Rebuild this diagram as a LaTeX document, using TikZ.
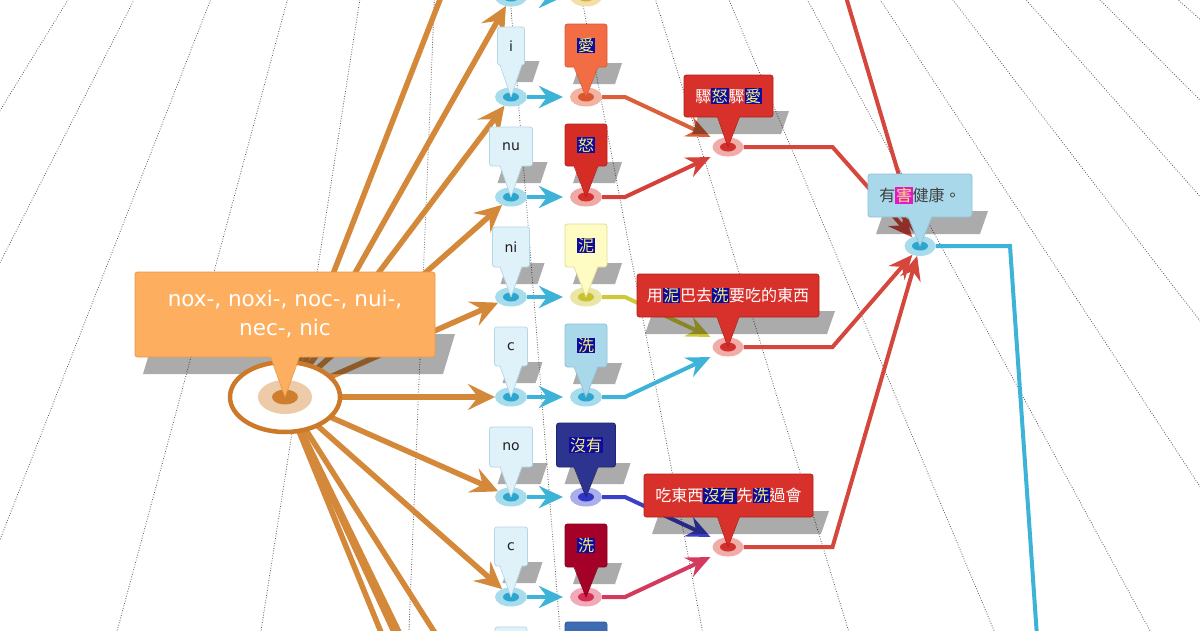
\documentclass[tikz,border=0pt]{standalone}
\usepackage{fontspec}
\setmainfont{DejaVu Sans}
\newfontfamily\cjk{Noto Sans CJK TC}
\usetikzlibrary{arrows.meta,calc,shapes.geometric}
\definecolor{oc}{HTML}{D4883A}
\definecolor{ringc}{HTML}{CC7A2A}
\definecolor{ringl}{HTML}{EECBA8}
\definecolor{ringd}{HTML}{CF7E2E}
\definecolor{mainf}{HTML}{FDAE5F}
\definecolor{maind}{HTML}{E99A48}
\definecolor{labf}{HTML}{E0F2F9}
\definecolor{labd}{HTML}{B3D7E6}
\definecolor{bo}{HTML}{A6DCEC}
\definecolor{bi}{HTML}{2CA5CF}
\definecolor{barc}{HTML}{3DB4D7}
\definecolor{hlbg}{HTML}{0C0CA0}
\definecolor{hlfg}{HTML}{F6EE78}
\definecolor{hlmg}{HTML}{E418C8}
\definecolor{K1f}{HTML}{F26D44}\definecolor{K1d}{HTML}{D85A35}
\definecolor{K2f}{HTML}{D52D25}\definecolor{K2d}{HTML}{B82019}
\definecolor{K3f}{HTML}{FFFCC3}\definecolor{K3d}{HTML}{E2DC9A}
\definecolor{K4f}{HTML}{A9D8EA}\definecolor{K4d}{HTML}{8EC2D6}
\definecolor{K5f}{HTML}{2C348F}\definecolor{K5d}{HTML}{1F2570}
\definecolor{K6f}{HTML}{A50027}\definecolor{K6d}{HTML}{86001C}
\definecolor{K7f}{HTML}{3E6CB2}\definecolor{K7d}{HTML}{2F5896}
\definecolor{Tf}{HTML}{D8302A}\definecolor{Td}{HTML}{B52018}
\definecolor{Hf}{HTML}{A9D8EA}\definecolor{Hd}{HTML}{8EC2D6}
\definecolor{c0o}{HTML}{F3DFA8}\definecolor{c0i}{HTML}{D8AE3C}
\definecolor{c1o}{HTML}{F2B3A2}\definecolor{c1i}{HTML}{D9572F}
\definecolor{c2o}{HTML}{F0AAA6}\definecolor{c2i}{HTML}{D42F2A}
\definecolor{c3o}{HTML}{E9E6A6}\definecolor{c3i}{HTML}{C9C22E}
\definecolor{c5o}{HTML}{ABAEEB}\definecolor{c5i}{HTML}{2E36C8}
\definecolor{c6o}{HTML}{F2A9BA}\definecolor{c6i}{HTML}{D42E55}
\definecolor{to}{HTML}{F0ADA8}\definecolor{ti}{HTML}{D42F2F}
\definecolor{g0}{HTML}{E8D49A}
\definecolor{r1}{HTML}{D9603A}
\definecolor{r2}{HTML}{D6403A}
\definecolor{y3}{HTML}{CFC83A}
\definecolor{n5}{HTML}{3A40C8}
\definecolor{p6}{HTML}{D43A5E}
\definecolor{rr}{HTML}{D5473D}
\pgfdeclarelayer{raysl}\pgfdeclarelayer{connl}\pgfdeclarelayer{shadl}
\pgfsetlayers{raysl,connl,shadl,main}
\newcommand\hlb[1]{{\setlength\fboxsep{0.6pt}\colorbox{hlbg}{\textcolor{hlfg}{#1}}}}
\newcommand\hlm[1]{{\setlength\fboxsep{0.6pt}\colorbox{hlmg}{\textcolor{hlfg}{#1}}}}
\newcommand\mkshadow[3]{\fill[shadowc] ($(#1.south west)+(8,17)$) -- ($(#1.south east)+(8,17)$) -- ($(#1.south east)+(8+#3,17-#2)$) -- ($(#1.south west)+(8+#3,17-#2)$) -- cycle;}
\newcommand\mkptr[5]{%
  \fill[#3] ([xshift=-#5pt,yshift=1.2pt]#1.south) -- (#2.center) -- ([xshift=#5pt,yshift=1.2pt]#1.south) -- cycle;
  \draw[#4, line width=0.7pt, line join=round] ([xshift=-#5pt]#1.south) -- (#2.center) -- ([xshift=#5pt]#1.south);}
\newcommand\dotin[2]{\fill[#2] (#1.center) ellipse (8pt and 4.5pt);}
\tikzset{
  ray/.style={draw=black!65, line width=0.8pt, dash pattern=on 0.8pt off 1.7pt},
  oline/.style={draw=oc, line width=5.5pt, -{Stealth[length=27pt,width=26pt,inset=10pt]}},
  barrow/.style={draw=barc, line width=4pt, shorten >=7pt, -{Stealth[length=24pt,width=22pt,inset=8pt]}},
  carrow/.style={draw=#1, line width=4pt, -{Stealth[length=24pt,width=21pt,inset=8pt]}},
  bline/.style={draw=barc, line width=4pt},
  mk/.style={ellipse, inner sep=0pt, outer sep=0pt, minimum width=32pt, minimum height=19pt, fill=#1},
  box/.style={rounded corners=2.5pt, inner sep=0pt, outer sep=0pt, line width=0.8pt, align=center},
  labbox/.style={box, fill=labf, draw=labd, font=\fontsize{14}{16}\selectfont, text=black!88},
  cjkbox/.style={box, font=\cjk\fontsize{16}{18}\selectfont},
  shadowc/.style={fill=black, fill opacity=0.33},
}
\begin{document}
\begin{tikzpicture}[x=1pt,y=-1pt]
\useasboundingbox (0,0) rectangle (1200,630);
\coordinate (C) at (460,-640);
\coordinate (mc) at (285,397);
\coordinate (ob) at (480,-103);
\coordinate (od1) at (496,729);
\coordinate (od2) at (496,832);
\coordinate (od3) at (496,852);
\coordinate (od4) at (496,914);
\coordinate (t0w) at (711,-43);
\coordinate (tt) at (835,-40);
\coordinate (hk) at (1010,246);
\coordinate (hend) at (1040,680);
% markers
\foreach \i/\y in {0/-3,1/97,2/197,3/297,4/397,5/497,6/597}{
  \node[mk=bo] (b\i) at (511,\y) {}; \dotin{b\i}{bi}}
\node[mk=c0o] (c0) at (586,-3) {}; \dotin{c0}{c0i}
\node[mk=c1o] (c1) at (586,97) {}; \dotin{c1}{c1i}
\node[mk=c2o] (c2) at (586,197) {}; \dotin{c2}{c2i}
\node[mk=c3o] (c3) at (586,297) {}; \dotin{c3}{c3i}
\node[mk=bo] (c4) at (586,397) {}; \dotin{c4}{bi}
\node[mk=c5o] (c5) at (586,497) {}; \dotin{c5}{c5i}
\node[mk=c6o] (c6) at (586,597) {}; \dotin{c6}{c6i}
\foreach \i/\y in {1/147,2/347,3/547}{
  \node[mk=to, minimum width=31pt] (t\i) at (728,\y) {}; \dotin{t\i}{ti}}
\node[mk=bo, minimum width=31pt, minimum height=20pt] (h) at (920,246) {}; \dotin{h}{bi}
% central ring
\node[ellipse, draw=ringc, line width=4.5pt, fill=white, minimum width=110pt, minimum height=70pt, inner sep=0pt] (m) at (mc) {};
\fill[ringl] (m.center) ellipse (27pt and 17pt);
\fill[ringd] (m.center) ellipse (13pt and 7.5pt);
% boxes
\node[box, fill=mainf, draw=maind, minimum width=300pt, minimum height=85pt, text=white, font=\fontsize{21.5}{29}\selectfont] (mlab) at (285,314.5) {nox-, noxi-, noc-, nui-,\\nec-, nic};
\node[labbox, minimum width=27pt, minimum height=38pt] (L1) at (511,46) {i};
\node[labbox, minimum width=43pt, minimum height=39pt] (L2) at (511,146.5) {nu};
\node[labbox, minimum width=37pt, minimum height=40pt] (L3) at (511,247) {ni};
\node[labbox, minimum width=33pt, minimum height=39pt] (L4) at (511,346.5) {c};
\node[labbox, minimum width=43pt, minimum height=40pt] (L5) at (511,447) {no};
\node[labbox, minimum width=33pt, minimum height=39pt] (L6) at (511,546.5) {c};
\node[labbox, minimum width=32pt, minimum height=40pt] (L7) at (511,647) {};
\node[cjkbox, fill=K1f, draw=K1d, minimum width=42pt, minimum height=43pt] (K1) at (586,45.5) {\hlb{愛}};
\node[cjkbox, fill=K2f, draw=K2d, minimum width=42pt, minimum height=42pt] (K2) at (586,145) {\hlb{怒}};
\node[cjkbox, fill=K3f, draw=K3d, minimum width=42pt, minimum height=43pt] (K3) at (586,245.5) {\hlb{泥}};
\node[cjkbox, fill=K4f, draw=K4d, minimum width=42pt, minimum height=43pt] (K4) at (586,345.5) {\hlb{洗}};
\node[cjkbox, fill=K5f, draw=K5d, minimum width=59pt, minimum height=44pt] (K5) at (586,445) {\hlb{沒有}};
\node[cjkbox, fill=K6f, draw=K6d, minimum width=42pt, minimum height=43pt] (K6) at (586,545.5) {\hlb{洗}};
\node[cjkbox, fill=K7f, draw=K7d, minimum width=42pt, minimum height=46pt] (K7) at (586,645) {};
\node[cjkbox, fill=Tf, draw=Td, text=white, minimum width=89pt, minimum height=42pt] (T1) at (728.5,96) {驟\hlb{怒}驟\hlb{愛}};
\node[cjkbox, fill=Tf, draw=Td, text=white, minimum width=182pt, minimum height=43pt] (T2) at (728,295.5) {用\hlb{泥}巴去\hlb{洗}要吃的東西};
\node[cjkbox, fill=Tf, draw=Td, text=white, minimum width=169pt, minimum height=43pt] (T3) at (728.5,495.5) {吃東西\hlb{沒有}先\hlb{洗}過會};
\node[cjkbox, fill=Hf, draw=Hd, text=black!75, minimum width=104pt, minimum height=43pt] (H) at (920,195.5) {有\hlm{害}健康。};
% pointers
\mkptr{mlab}{m}{mainf}{maind}{14.5}
\foreach \i in {1,...,6}{\mkptr{L\i}{b\i}{labf}{labd}{11}}
\mkptr{K1}{c1}{K1f}{K1d}{12}
\mkptr{K2}{c2}{K2f}{K2d}{12}
\mkptr{K3}{c3}{K3f}{K3d}{12}
\mkptr{K4}{c4}{K4f}{K4d}{12}
\mkptr{K5}{c5}{K5f}{K5d}{12}
\mkptr{K6}{c6}{K6f}{K6d}{12}
\mkptr{T1}{t1}{Tf}{Td}{11}
\mkptr{T2}{t2}{Tf}{Td}{11}
\mkptr{T3}{t3}{Tf}{Td}{11}
\mkptr{H}{h}{Hf}{Hd}{12}
% rays
\begin{pgfonlayer}{raysl}
\fill[white] (0,0) rectangle (1200,630);
\foreach \a in {-31.5,-27,-21.3,-15.1,-8.9,-2.3,4.5,10.8,17,22.8,28.5,33.3,37.6,41.5,45,48.3}
  \draw[ray] (C) -- ++({2300*sin(\a)},{2300*cos(\a)});
\end{pgfonlayer}
% connectors
\begin{pgfonlayer}{connl}
\foreach \t in {ob,b0,b1,b2,b3,b4,b5,b6,od1,od2,od3,od4}
  \draw[oline] (mc) -- (\t);
\foreach \i in {0,...,6} \draw[barrow] (b\i) -- (c\i);
\draw[carrow=g0] (c0.east) -- ++(23,0) -- (t0w);
\draw[carrow=r1] (c1.east) -- ++(23,0) -- ([xshift=-2pt,yshift=10pt]t1.west);
\draw[carrow=r2] (c2.east) -- ++(23,0) -- ([xshift=-2pt,yshift=-10pt]t1.west);
\draw[carrow=y3] (c3.east) -- ++(23,0) -- ([xshift=-2pt,yshift=10pt]t2.west);
\draw[carrow=barc] (c4.east) -- ++(23,0) -- ([xshift=-2pt,yshift=-10pt]t2.west);
\draw[carrow=n5] (c5.east) -- ++(23,0) -- ([xshift=-2pt,yshift=10pt]t3.west);
\draw[carrow=p6] (c6.east) -- ++(23,0) -- ([xshift=-2pt,yshift=-10pt]t3.west);
\draw[carrow=rr] (t1.east) -- ++(89,0) -- (h);
\draw[carrow=rr] (t2.east) -- ++(89,0) -- (h);
\draw[carrow=rr] (t3.east) -- ++(89,0) -- (h);
\draw[carrow=rr] (tt) -- (h);
\draw[bline] (h.east) -- (hk) -- (hend);
\end{pgfonlayer}
% shadows
\begin{pgfonlayer}{shadl}
\mkshadow{mlab}{40}{12}
\foreach \n in {L1,L2,L3,L4,L5,L6,K1,K2,K3,K4,K5,K6}{\mkshadow{\n}{21}{7}}
\foreach \n in {T1,T2,T3,H}{\mkshadow{\n}{23}{8}}
\end{pgfonlayer}
\end{tikzpicture}
\end{document}
